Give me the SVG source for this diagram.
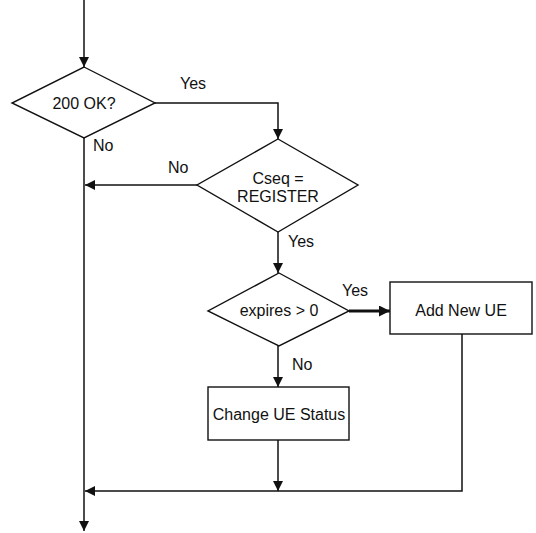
<svg xmlns="http://www.w3.org/2000/svg" width="536" height="533" viewBox="0 0 536 533">
  <defs>
    <marker id="arrow" viewBox="0 0 10 10" refX="10" refY="5" markerWidth="10" markerHeight="10" markerUnits="userSpaceOnUse" orient="auto">
      <path d="M0,0 L10,5 L0,10 Z" fill="#111"/>
    </marker>
    <marker id="arrowBold" viewBox="0 0 10 10" refX="10" refY="5" markerWidth="12" markerHeight="11" markerUnits="userSpaceOnUse" orient="auto">
      <path d="M0,0 L10,5 L0,10 Z" fill="#111"/>
    </marker>
  </defs>
  <style>
    .shape { fill: #fff; stroke: #111; stroke-width: 1.4; }
    .edge { fill: none; stroke: #111; stroke-width: 1.5; }
    .bold { stroke-width: 3; }
    text { font-family: "Liberation Sans", Arial, sans-serif; font-size: 16px; fill: #111; }
    .c { text-anchor: middle; }
  </style>
  <rect width="536" height="533" fill="#fff"/>

  <g id="connectors">
    <path class="edge" d="M84,0 V67" marker-end="url(#arrow)"/>
    <path class="edge" d="M155,103 H278 V139" marker-end="url(#arrow)"/>
    <path class="edge" d="M84,138 V531" marker-end="url(#arrow)"/>
    <path class="edge" d="M197,185 H85" marker-end="url(#arrow)"/>
    <path class="edge" d="M278,232 V273" marker-end="url(#arrow)"/>
    <path class="edge bold" d="M349,311 H390" marker-end="url(#arrowBold)"/>
    <path class="edge" d="M278,346 V387" marker-end="url(#arrow)"/>
    <path class="edge" d="M278,440 V491" marker-end="url(#arrow)"/>
    <path class="edge" d="M462,334 V491 H85" marker-end="url(#arrow)"/>
    <text x="180" y="89">Yes</text>
    <text x="93" y="151">No</text>
    <text x="168" y="173">No</text>
    <text x="288" y="247">Yes</text>
    <text x="342" y="296">Yes</text>
    <text x="292" y="370">No</text>
  </g>

  <g id="ok200">
    <polygon class="shape" points="84,67 155,103 84,138 12,103"/>
    <text class="c" x="84" y="109">200 OK?</text>
  </g>

  <g id="cseq">
    <polygon class="shape" points="278,139 358,185 278,232 197,185"/>
    <text class="c" x="278" y="184">Cseq =</text>
    <text class="c" x="278" y="202">REGISTER</text>
  </g>

  <g id="expires">
    <polygon class="shape" points="279,273 349,311 279,346 208,311"/>
    <text class="c" x="279" y="316">expires &gt; 0</text>
  </g>

  <g id="addNewUE">
    <rect class="shape" x="390" y="282" width="142" height="52"/>
    <text class="c" x="461" y="316">Add New UE</text>
  </g>

  <g id="changeUEStatus">
    <rect class="shape" x="208" y="387" width="141" height="53"/>
    <text class="c" x="279" y="420">Change UE Status</text>
  </g>
</svg>
